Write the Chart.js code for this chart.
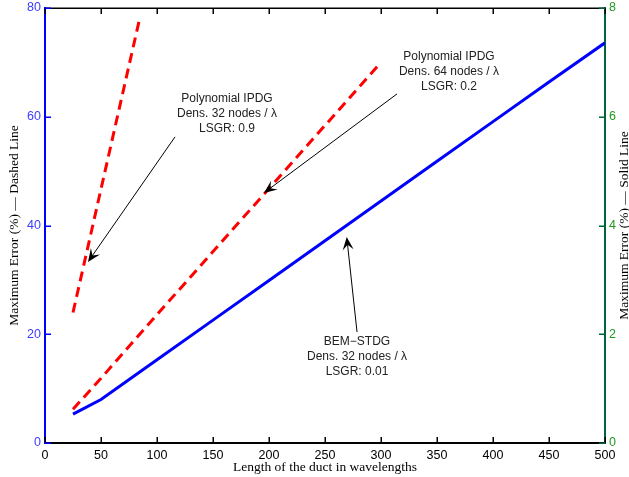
<!DOCTYPE html>
<html lang="en">
<head>
<meta charset="UTF-8">
<title>Maximum error vs duct length</title>
<script src="https://cdn.jsdelivr.net/npm/chart.js"></script>
<style>
  body { margin: 0; background: #fff; }
  canvas { display: block; }
</style>
</head>
<body>
<canvas id="errChart" width="629" height="477"></canvas>
<script>
// values: duct length (wavelengths) vs maximum error (%)
const lenIpdg32 = [25, 40, 60, 85];
const errIpdg32 = [24, 37.6, 55.8, 78.5];                 // left axis, dashed
const lenIpdg64 = [25, 50, 100, 150, 200, 250, 300];
const errIpdg64 = [6.2, 11.9, 23.6, 35.2, 46.8, 58.4, 70]; // left axis, dashed
const lenBem = [25, 50, 100, 150, 200, 250, 300, 350, 400, 450, 500];
const errBem = [0.53, 0.80, 1.53, 2.26, 2.99, 3.72, 4.45, 5.18, 5.91, 6.64, 7.36]; // right axis, solid

const xTicks = [0, 50, 100, 150, 200, 250, 300, 350, 400, 450, 500];
const leftTicks = [0, 20, 40, 60, 80];
const rightTicks = [0, 2, 4, 6, 8];

// text + arrow annotations, in data units (x, left-axis y)
const notes = [
    { lines: ['Polynomial IPDG', 'Dens. 32 nodes / \u03bb', 'LSGR: 0.9'],
      text: [162.5, 63.4], tail: [116.1, 56.3], head: [38.4, 33.3] },
    { lines: ['Polynomial IPDG', 'Dens. 64 nodes / \u03bb', 'LSGR: 0.2'],
      text: [360.7, 71.0], tail: [314.3, 64.2], head: [195.5, 46.0] },
    { lines: ['BEM\u2212STDG', 'Dens. 32 nodes / \u03bb', 'LSGR: 0.01'],
      text: [278.6, 18.7], tail: [278.6, 20.4], head: [269.4, 37.9] }
];

const BLUE = '#0000ff', RED = '#ff0000';
const GREEN_TXT = '#1f9a1f', GREEN_AX = '#00663d';
const SANS = '"Liberation Sans", Arial, Helvetica, sans-serif';
const SERIF = '"Liberation Serif", "Times New Roman", serif';

function pts(xs, ys) { return xs.map((x, i) => ({ x: x, y: ys[i] })); }

function arrow(ctx, x1, y1, x2, y2) {
    const a = Math.atan2(y2 - y1, x2 - x1);
    const len = 13, wid = 5.5;
    ctx.beginPath();
    ctx.moveTo(x1, y1);
    ctx.lineTo(x2 - Math.cos(a) * 7, y2 - Math.sin(a) * 7);
    ctx.stroke();
    const bx = x2 - Math.cos(a) * len, by = y2 - Math.sin(a) * len;
    const nx = x2 - Math.cos(a) * len * 0.6, ny = y2 - Math.sin(a) * len * 0.6;
    ctx.beginPath();
    ctx.moveTo(x2, y2);
    ctx.lineTo(bx - Math.sin(a) * wid, by + Math.cos(a) * wid);
    ctx.lineTo(nx, ny);
    ctx.lineTo(bx + Math.sin(a) * wid, by - Math.cos(a) * wid);
    ctx.closePath();
    ctx.fill();
}

const noPad = s => { s.paddingTop = 0; s.paddingBottom = 0; };

const decor = {
    id: 'decor',
    afterDraw(chart) {
        const ctx = chart.ctx, a = chart.chartArea;
        const sx = chart.scales.x, sy = chart.scales.y, sy2 = chart.scales.y2;
        ctx.save();
        ctx.setLineDash([]);
        // frame: top black line and inward tick marks
        ctx.fillStyle = '#000';
        ctx.fillRect(a.left, a.top - 0.5, a.right - a.left, 1.5);
        xTicks.forEach(v => {
            const px = Math.round(sx.getPixelForValue(v));
            ctx.fillRect(px - 0.5, a.bottom - 6, 1.5, 6);
            ctx.fillRect(px - 0.5, a.top, 1.5, 6);
        });
        ctx.fillStyle = BLUE;
        leftTicks.forEach(v => {
            const py = Math.round(sy.getPixelForValue(v));
            ctx.fillRect(a.left, py - 0.5, 6, 1.5);
        });
        ctx.fillStyle = GREEN_AX;
        rightTicks.forEach(v => {
            const py = Math.round(sy2.getPixelForValue(v));
            ctx.fillRect(a.right - 6, py - 0.5, 6, 1.5);
        });

        // annotations
        ctx.fillStyle = '#222';
        ctx.strokeStyle = '#000';
        ctx.lineWidth = 1;
        ctx.font = '12px ' + SANS;
        ctx.textAlign = 'center';
        ctx.textBaseline = 'middle';
        notes.forEach(n => {
            const tx = sx.getPixelForValue(n.text[0]);
            const ty = sy.getPixelForValue(n.text[1]);
            n.lines.forEach((l, i) => ctx.fillText(l, tx, ty + i * 15));
        });
        ctx.fillStyle = '#000';
        notes.forEach(n => {
            arrow(ctx, sx.getPixelForValue(n.tail[0]), sy.getPixelForValue(n.tail[1]),
                  sx.getPixelForValue(n.head[0]), sy.getPixelForValue(n.head[1]));
        });

        // axis titles
        ctx.fillStyle = '#000';
        ctx.font = '13.5px ' + SERIF;
        ctx.textBaseline = 'middle';
        const cy = (a.top + a.bottom) / 2;
        ctx.fillText('Length of the duct in wavelengths', (a.left + a.right) / 2, 467);
        ctx.save();
        ctx.translate(14, cy);
        ctx.rotate(-Math.PI / 2);
        ctx.fillText('Maximum Error (%) \u2014 Dashed Line', 0, 0);
        ctx.restore();
        ctx.save();
        ctx.translate(624, cy);
        ctx.rotate(-Math.PI / 2);
        ctx.fillText('Maximum Error (%) \u2014 Solid Line', 0, 0);
        ctx.restore();
        ctx.restore();
    }
};

new Chart(document.getElementById('errChart'), {
    type: 'line',
    data: {
        datasets: [
            { label: 'IPDG 32', data: pts(lenIpdg32, errIpdg32), yAxisID: 'y',
              borderColor: RED, borderWidth: 3, borderDash: [10, 6] },
            { label: 'IPDG 64', data: pts(lenIpdg64, errIpdg64), yAxisID: 'y',
              borderColor: RED, borderWidth: 3, borderDash: [10, 6] },
            { label: 'BEM-STDG', data: pts(lenBem, errBem), yAxisID: 'y2',
              borderColor: BLUE, borderWidth: 3 }
        ]
    },
    options: {
        responsive: false,
        animation: false,
        events: [],
        layout: { padding: { top: 8, left: 0, right: 0, bottom: 0 } },
        elements: { point: { radius: 0 }, line: { tension: 0, borderCapStyle: 'butt' } },
        plugins: { legend: { display: false }, tooltip: { enabled: false } },
        scales: {
            x: {
                type: 'linear', position: 'bottom', min: 0, max: 500,
                afterBuildTicks: s => { s.ticks = xTicks.map(v => ({ value: v })); },
                afterFit: s => { s.height = 34; s.paddingLeft = 0; s.paddingRight = 0; },
                grid: { display: false, drawTicks: false },
                border: { display: true, color: '#000', width: 2 },
                ticks: { padding: 5, color: '#000', maxRotation: 0,
                         font: { family: SANS, size: 12.5 } }
            },
            y: {
                type: 'linear', position: 'left', min: 0, max: 80,
                afterBuildTicks: s => { s.ticks = leftTicks.map(v => ({ value: v })); },
                afterFit: s => { s.width = 45; noPad(s); },
                grid: { display: false, drawTicks: false },
                border: { display: true, color: BLUE, width: 2 },
                ticks: { padding: 4, color: '#3c3cff', font: { family: SANS, size: 12.5 } }
            },
            y2: {
                type: 'linear', position: 'right', min: 0, max: 8,
                afterBuildTicks: s => { s.ticks = rightTicks.map(v => ({ value: v })); },
                afterFit: s => { s.width = 24; noPad(s); },
                grid: { display: false, drawTicks: false },
                border: { display: true, color: GREEN_AX, width: 2 },
                ticks: { padding: 4, color: GREEN_TXT, font: { family: SANS, size: 12.5 } }
            }
        }
    },
    plugins: [decor]
});
</script>
</body>
</html>
